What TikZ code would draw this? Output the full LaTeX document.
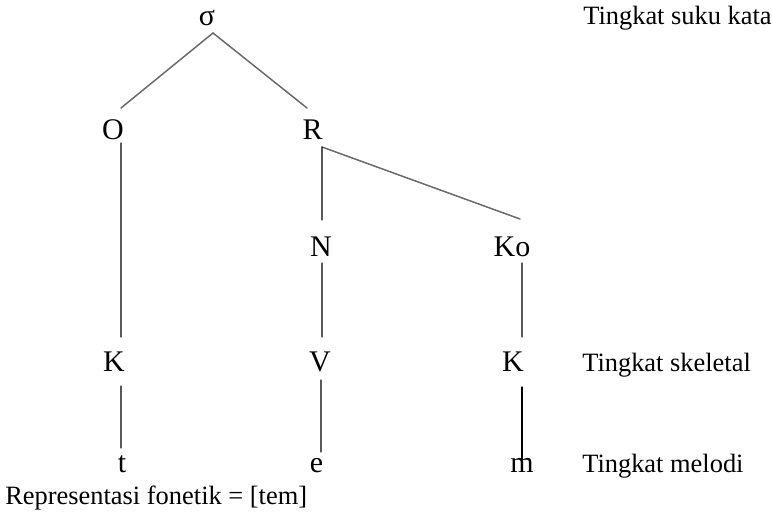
\documentclass[tikz,border=0pt]{standalone}
\usepackage{fontspec}
\setmainfont{Liberation Serif}
\definecolor{treegray}{RGB}{105,105,105}
\begin{document}
\begin{tikzpicture}[line join=round, line cap=round]
\tikzset{seg/.style={font=\fontsize{21.3pt}{24pt}\selectfont, inner sep=0pt, anchor=base},
lvl/.style={font=\fontsize{18.8pt}{22pt}\selectfont, inner sep=0pt, anchor=base west},
slant/.style={draw=treegray, line width=1.05pt},
stem/.style={draw=black, line width=0.85pt}}
\useasboundingbox (0,0) rectangle (19.3,-12.825);
% tree
\node[seg] (sig) at (5.175,-0.65) {σ};
\node[seg] (O) at (2.825,-3.5) {O};
\node[seg] (R) at (7.8125,-3.5) {R};
\node[seg] (N) at (8.025,-6.425) {N};
\node[seg] (Ko) at (12.8,-6.425) {Ko};
\node[seg] (K1) at (2.85,-9.3) {K};
\node[seg] (V) at (8,-9.3) {V};
\node[seg] (K2) at (12.825,-9.3) {K};
\node[seg] (t) at (3.05,-11.825) {t};
\node[seg] (e) at (7.9125,-11.825) {e};
\node[seg] (m) at (13.05,-11.825) {m};
% levels
\node[lvl] (suku) at (14.575,-0.625) {Tingkat suku kata};
\node[lvl] (skel) at (14.55,-9.3) {Tingkat skeletal};
\node[lvl] (melo) at (14.55,-11.825) {Tingkat melodi};
\node[lvl] (fon) at (0.125,-12.625) {Representasi fonetik = [tem]};
% branches
\draw[slant] ([shift={(0.15,-0.175)}]sig.base) -- ([shift={(0.2,0.8)}]O.base);
\draw[slant] ([shift={(0.15,-0.175)}]sig.base) -- ([shift={(-0.1375,0.8)}]R.base);
\draw[slant] ([shift={(0.2375,-0.175)}]R.base) -- ([shift={(0.2,0.95)}]Ko.base);
\draw[stem] ([shift={(0.2375,-0.175)}]R.base) -- ([shift={(0.025,0.925)}]N.base);
\draw[stem] ([shift={(0.2,-0.075)}]O.base) -- ([shift={(0.175,0.875)}]K1.base);
\draw[stem] ([shift={(0.025,-0.15)}]N.base) -- ([shift={(0.05,0.875)}]V.base);
\draw[stem] ([shift={(0.25,-0.15)}]Ko.base) -- ([shift={(0.225,0.875)}]K2.base);
\draw[stem] ([shift={(0.175,-0.35)}]K1.base) -- ([shift={(-0.025,0.625)}]t.base);
\draw[stem] ([shift={(0.025,-0.2)}]V.base) -- ([shift={(0.1125,0.525)}]e.base);
\draw[stem] ([shift={(0.225,-0.375)}]K2.base) -- ([shift={(0,0.325)}]m.base);
\end{tikzpicture}
\end{document}
